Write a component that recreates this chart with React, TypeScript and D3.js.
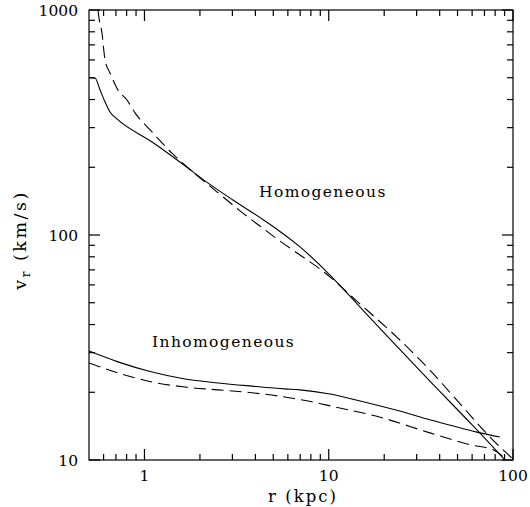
import * as d3 from 'd3';

// r in kpc, v_r in km/s
const homSolidR = [0.5, 0.539, 0.574, 0.611, 0.65, 0.709, 1.1, 1.66, 2.13, 3.02, 4.62, 6.98, 10.16, 13.0, 20.7, 35.4, 60.6, 90.4];
const homSolidV = [500, 499, 441, 390, 352, 328, 259, 203, 174, 143, 114, 88.5, 66.4, 53.6, 35.6, 22.4, 14.2, 10];

const homDashR = [0.553, 0.56, 0.588, 0.611, 0.65, 0.675, 0.718, 0.804, 0.889, 1.1, 1.41, 1.88, 2.51, 3.3, 4.23, 5.44, 6.98, 8.96, 10.16, 13.0, 16.1, 23.4, 35.4, 53.5, 75.0, 98.7];
const homDashV = [1200, 1000, 790, 600, 525, 489, 441, 398, 349, 287, 231, 187, 154, 128, 109.6, 94, 81.5, 70.6, 65.1, 54.3, 46.4, 35.2, 25.1, 17.2, 12.65, 10.2];

const inhSolidR = [0.5, 0.718, 1.1, 1.66, 2.51, 3.83, 5.78, 6.98, 10.16, 14.8, 24.3, 35.4, 63.7, 84.9];
const inhSolidV = [30.5, 27.3, 24.6, 22.9, 22.0, 21.3, 20.7, 20.5, 19.65, 18.3, 16.5, 15.1, 13.3, 12.65];

const inhDashR = [0.5, 0.718, 1.1, 1.66, 2.51, 3.83, 5.78, 8.74, 10.16, 19.0, 35.4, 58.3, 77.8, 90.4];
const inhDashV = [27.0, 24.4, 22.2, 21.1, 20.5, 19.9, 19.05, 17.9, 17.4, 15.5, 13.2, 11.7, 11.1, 10.2];

const xTickLabels = ['1', '10', '100'];
const yTickLabels = ['10', '100', '1000'];

const W = 530;
const H = 507;
const left = 89, right = 513, top = 10, bottom = 460;
const font = 'DejaVu Serif';

export default function App() {
  const x = d3.scaleLog().domain([0.5, 100]).range([left, right]);
  const y = d3.scaleLog().domain([10, 1000]).range([bottom, top]);

  const xMinor: number[] = [];
  [0.1, 1, 10].forEach(d => {
    for (let k = 2; k <= 9; k++) {
      const v = d * k;
      if (v > 0.5 && v < 100) xMinor.push(v);
    }
  });
  const yMinor: number[] = [];
  [10, 100].forEach(d => {
    for (let k = 2; k <= 9; k++) yMinor.push(d * k);
  });

  const line = d3.line<[number, number]>()
    .x(d => x(d[0]))
    .y(d => y(d[1]))
    .curve(d3.curveMonotoneX);

  const series = [
    { r: homSolidR, v: homSolidV, dash: undefined },
    { r: homDashR, v: homDashV, dash: '12,6' },
    { r: inhSolidR, v: inhSolidV, dash: undefined },
    { r: inhDashR, v: inhDashV, dash: '12,6' },
  ];

  const major = 11, minor = 6;

  return (
    <svg width={W} height={H} style={{ position: 'absolute', left: 0, top: 0, background: '#fff' }}
      fontFamily={font}>
      <defs>
        <clipPath id="plot">
          <rect x={left} y={top} width={right - left} height={bottom - top} />
        </clipPath>
      </defs>
      <g clipPath="url(#plot)" fill="none" stroke="#000" strokeWidth={1.1}>
        {series.map((s, i) => (
          <path key={i} d={line(s.r.map((r, j) => [r, s.v[j]] as [number, number])) || ''}
            strokeDasharray={s.dash} />
        ))}
      </g>
      <g stroke="#000" strokeWidth={1.2}>
        {xTickLabels.map(t => {
          const px = x(+t);
          return (
            <g key={'xm' + t}>
              <line x1={px} x2={px} y1={bottom} y2={bottom - major} />
              <line x1={px} x2={px} y1={top} y2={top + major} />
            </g>
          );
        })}
        {xMinor.map(v => (
          <g key={'xn' + v}>
            <line x1={x(v)} x2={x(v)} y1={bottom} y2={bottom - minor} />
            <line x1={x(v)} x2={x(v)} y1={top} y2={top + minor} />
          </g>
        ))}
        {yTickLabels.map(t => {
          const py = y(+t);
          return (
            <g key={'ym' + t}>
              <line x1={left} x2={left + major} y1={py} y2={py} />
              <line x1={right} x2={right - major} y1={py} y2={py} />
            </g>
          );
        })}
        {yMinor.map(v => (
          <g key={'yn' + v}>
            <line x1={left} x2={left + minor} y1={y(v)} y2={y(v)} />
            <line x1={right} x2={right - minor} y1={y(v)} y2={y(v)} />
          </g>
        ))}
        <rect x={left} y={top} width={right - left} height={bottom - top} fill="none" />
      </g>
      <g fontSize={15.5} fill="#000">
        {xTickLabels.map(t => (
          <text key={'xl' + t} x={x(+t)} y={481} textAnchor="middle">{t}</text>
        ))}
        {yTickLabels.map(t => (
          <text key={'yl' + t} x={78} y={y(+t) + 5.5} textAnchor="end">{t}</text>
        ))}
        <text x={303} y={502} textAnchor="middle" fontSize={16.5} letterSpacing={2}>r (kpc)</text>
        <text transform="translate(26,240) rotate(-90)" textAnchor="middle" fontSize={17.5} letterSpacing={2.5}>
          v<tspan fontSize={12} dy={4}>r</tspan><tspan dy={-4}> (km/s)</tspan>
        </text>
        <text x={259} y={197} letterSpacing={1.4}>Homogeneous</text>
        <text x={152} y={347} letterSpacing={1.4}>Inhomogeneous</text>
      </g>
    </svg>
  );
}
